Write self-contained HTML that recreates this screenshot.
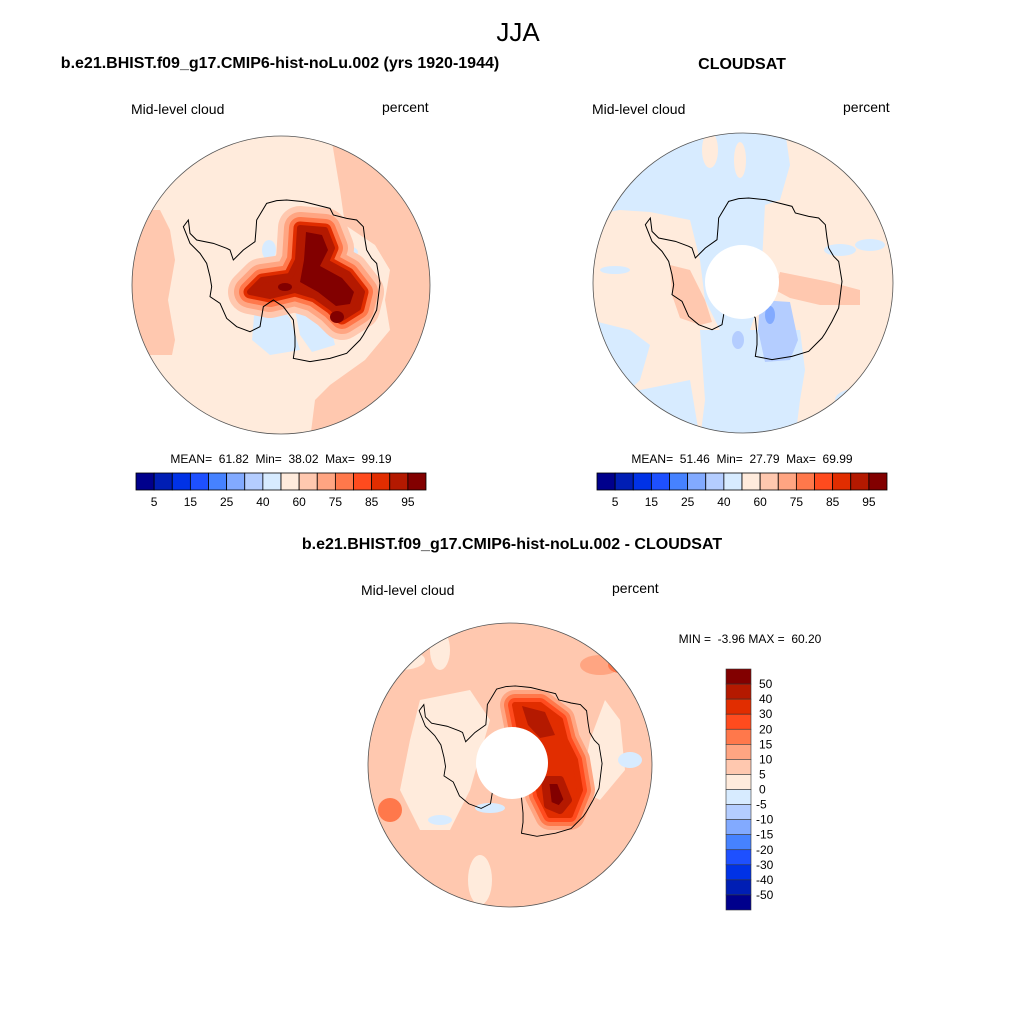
<!DOCTYPE html>
<html><head><meta charset="utf-8"><style>
body{margin:0;background:#fff}
svg text{font-family:"Liberation Sans",sans-serif;fill:#000;white-space:pre}
</style></head><body>
<svg id="fig" width="1024" height="1024" viewBox="0 0 1024 1024" xmlns="http://www.w3.org/2000/svg">
<defs>
<clipPath id="c1"><circle cx="281" cy="285" r="149"/></clipPath>
<clipPath id="c2"><circle cx="743" cy="283" r="150"/></clipPath>
<clipPath id="c3"><circle cx="510" cy="765" r="142"/></clipPath>
<path id="ant" d="M410,160 L440,152 470,150 520,155 560,165 600,175 610,195 650,205 680,210 700,230 705,270 710,300 725,325 740,340 750,400 745,440 740,480 720,520 700,555 690,570 650,610 600,625 540,635 490,625 495,590 495,560 490,510 460,470 430,450 400,470 395,500 390,530 360,545 320,530 290,505 270,460 240,440 245,410 240,380 230,340 210,310 180,280 160,230 175,210 180,250 200,270 250,280 290,295 300,300 310,330 340,300 375,275 378,240 380,210 Z" fill="none" stroke="#000" stroke-width="3"/>
<path id="core1" d="M300,228 L325,230 332,248 326,262 348,274 362,292 358,308 342,318 332,308 315,296 295,290 270,296 250,292 262,280 290,276 298,260Z"/>
<path id="core3" d="M515,705 L540,705 560,720 565,740 575,760 580,790 570,815 550,815 540,795 535,770 535,745 520,730Z"/>
</defs>
<text x="280" y="68" font-size="16" font-weight="bold" text-anchor="middle">b.e21.BHIST.f09_g17.CMIP6-hist-noLu.002 (yrs 1920-1944)</text>
<text x="518" y="41" font-size="26" text-anchor="middle">JJA</text>
<text x="742" y="69" font-size="16" font-weight="bold" text-anchor="middle">CLOUDSAT</text>
<text x="512" y="549" font-size="16" font-weight="bold" text-anchor="middle">b.e21.BHIST.f09_g17.CMIP6-hist-noLu.002 - CLOUDSAT</text>
<text x="131" y="114" font-size="14">Mid-level cloud</text>
<text x="382" y="112" font-size="14">percent</text>
<text x="592" y="114" font-size="14">Mid-level cloud</text>
<text x="843" y="112" font-size="14">percent</text>
<text x="361" y="595" font-size="14">Mid-level cloud</text>
<text x="612" y="593" font-size="14">percent</text>
<text x="281" y="463" font-size="12" text-anchor="middle">MEAN=  61.82  Min=  38.02  Max=  99.19</text>
<text x="742" y="463" font-size="12" text-anchor="middle">MEAN=  51.46  Min=  27.79  Max=  69.99</text>
<text x="750" y="643" font-size="12" text-anchor="middle">MIN =  -3.96 MAX =  60.20</text>

<!-- map 1 -->
<g clip-path="url(#c1)">
<rect x="130" y="130" width="310" height="310" fill="#ffebdc"/>
<path d="M130,210 L160,210 170,230 175,260 168,300 175,340 172,355 130,355Z" fill="#ffc8af"/>
<path d="M330,130 L440,130 440,440 310,440 315,400 330,385 365,360 390,330 385,300 390,270 375,245 345,225 340,190 335,160Z" fill="#ffc8af"/>
<path d="M255,305 L275,300 290,318 300,350 270,355 252,340Z" fill="#d7ebff"/>
<path d="M295,310 L310,305 330,325 335,345 312,352 300,335Z" fill="#d7ebff"/>
<ellipse cx="342" cy="252" rx="16" ry="7" fill="#d7ebff"/>
<ellipse cx="269" cy="250" rx="7" ry="10" fill="#d7ebff"/>
<g stroke-linejoin="round">
<use href="#core1" fill="#ffc8af" stroke="#ffc8af" stroke-width="44"/>
<use href="#core1" fill="#ffa582" stroke="#ffa582" stroke-width="32"/>
<use href="#core1" fill="#ff784b" stroke="#ff784b" stroke-width="22"/>
<use href="#core1" fill="#e12d00" stroke="#e12d00" stroke-width="13"/>
<use href="#core1" fill="#b41900" stroke="#b41900" stroke-width="6"/>
<path d="M306,232 L322,235 328,250 320,266 342,278 354,292 350,304 336,306 318,292 300,282 304,260Z" fill="#820000"/>
<ellipse cx="285" cy="287" rx="7" ry="4" fill="#820000"/>
<ellipse cx="337" cy="317" rx="7" ry="6" fill="#820000"/>
</g>
<g transform="translate(281,285) scale(0.3333) translate(-453,-405)"><use href="#ant"/></g>
</g>
<circle cx="281" cy="285" r="149" fill="none" stroke="#555" stroke-width="0.8"/>

<!-- map 2 -->
<g clip-path="url(#c2)">
<rect x="590" y="130" width="310" height="310" fill="#ffebdc"/>
<path d="M590,130 L785,130 790,165 780,200 765,205 760,300 750,330 720,330 705,300 700,260 690,220 650,212 620,210 590,215Z" fill="#d7ebff"/>
<path d="M700,330 L800,330 805,370 800,400 795,440 700,440 705,400Z" fill="#d7ebff"/>
<path d="M590,320 L630,330 650,345 640,380 620,400 590,400Z" fill="#d7ebff"/>
<path d="M590,400 L690,380 700,440 590,440Z" fill="#d7ebff"/>
<ellipse cx="612" cy="178" rx="18" ry="10" fill="#d7ebff"/>
<ellipse cx="840" cy="250" rx="16" ry="6" fill="#d7ebff"/>
<ellipse cx="870" cy="245" rx="15" ry="6" fill="#d7ebff"/>
<ellipse cx="615" cy="270" rx="15" ry="4" fill="#d7ebff"/>
<ellipse cx="860" cy="400" rx="25" ry="12" fill="#d7ebff"/>
<ellipse cx="710" cy="150" rx="8" ry="18" fill="#ffebdc"/>
<ellipse cx="740" cy="160" rx="6" ry="18" fill="#ffebdc"/>
<path d="M670,265 L690,270 705,300 712,322 700,325 680,318 672,295Z" fill="#ffc8af"/>
<path d="M780,272 L830,282 860,290 860,305 820,305 790,298 775,290Z" fill="#ffc8af"/>
<path d="M760,300 L790,302 798,340 790,360 765,362 758,330Z" fill="#b4cdff"/>
<ellipse cx="770" cy="315" rx="5" ry="9" fill="#82aaff"/>
<ellipse cx="738" cy="340" rx="6" ry="9" fill="#b4cdff"/>
<g transform="translate(743,283) scale(0.3333) translate(-453,-405)"><use href="#ant"/></g>
<circle cx="742" cy="282" r="37" fill="#fff"/>
</g>
<circle cx="743" cy="283" r="150" fill="none" stroke="#555" stroke-width="0.8"/>

<!-- map 3 -->
<g clip-path="url(#c3)">
<rect x="360" y="615" width="300" height="300" fill="#ffc8af"/>
<path d="M420,700 L470,690 490,720 470,790 450,830 420,830 400,790 410,740Z" fill="#ffebdc"/>
<path d="M580,790 L600,800 625,770 620,720 605,700 590,740Z" fill="#ffebdc"/>
<ellipse cx="400" cy="660" rx="25" ry="10" fill="#ffebdc"/>
<ellipse cx="480" cy="880" rx="12" ry="25" fill="#ffebdc"/>
<ellipse cx="440" cy="650" rx="10" ry="20" fill="#ffebdc"/>
<ellipse cx="600" cy="665" rx="20" ry="10" fill="#ffa582"/>
<ellipse cx="390" cy="810" rx="12" ry="12" fill="#ff784b"/>
<ellipse cx="620" cy="665" rx="12" ry="8" fill="#ff784b"/>
<ellipse cx="630" cy="760" rx="12" ry="8" fill="#d7ebff"/>
<ellipse cx="440" cy="820" rx="12" ry="5" fill="#d7ebff"/>
<ellipse cx="490" cy="808" rx="15" ry="5" fill="#d7ebff"/>
<g stroke-linejoin="round">
<use href="#core3" fill="#ffa582" stroke="#ffa582" stroke-width="30"/>
<use href="#core3" fill="#ff784b" stroke="#ff784b" stroke-width="22"/>
<use href="#core3" fill="#ff4b1e" stroke="#ff4b1e" stroke-width="14"/>
<use href="#core3" fill="#e12d00" stroke="#e12d00" stroke-width="6"/>
<path d="M522,706 L545,712 555,735 540,738 528,725Z" fill="#b41900"/>
<path d="M545,780 L560,780 568,800 560,810 548,805Z" fill="#820000" stroke="#b41900" stroke-width="8" stroke-linejoin="round"/>
</g>
<g transform="translate(510,765) scale(0.31) translate(-453,-405)"><use href="#ant"/></g>
<circle cx="512" cy="763" r="36" fill="#fff"/>
</g>
<circle cx="510" cy="765" r="142" fill="none" stroke="#555" stroke-width="0.8"/>

<g id="cb1"></g>
<g id="cb2"></g>
<g id="cb3"></g>
</svg>
<script>
const levelColors = ["#00008c","#001eb4","#0032e6","#1e50ff","#4682ff","#82aaff","#b4cdff","#d7ebff","#ffebdc","#ffc8af","#ffa582","#ff784b","#ff4b1e","#e12d00","#b41900","#820000"];
const absLabels = ["5","15","25","40","60","75","85","95"];
const diffLabels = ["50","40","30","20","15","10","5","0","-5","-10","-15","-20","-30","-40","-50"];
const NS="http://www.w3.org/2000/svg";
function mk(tag,attrs,parent){const e=document.createElementNS(NS,tag);for(const k in attrs)e.setAttribute(k,attrs[k]);parent.appendChild(e);return e;}
function horizBar(gid,x0,y0,w,h){
  const g=document.getElementById(gid);const bw=w/levelColors.length;
  levelColors.forEach((c,i)=>{const r=mk('rect',{x:x0+i*bw,y:y0,width:bw,height:h,fill:c,stroke:'#000','stroke-width':0.8},g);
    
    });
  absLabels.forEach((l,i)=>{const t=mk('text',{x:x0+(2*i+1)*bw,y:y0+h+16,'font-size':12,'text-anchor':'middle'},g);t.textContent=l;
    
    });
}
horizBar('cb1',136,473,290,17);
horizBar('cb2',597,473,290,17);
(function(){
  const g=document.getElementById('cb3');const x0=726,y0=669,w=25,h=241,bh=h/levelColors.length;
  levelColors.slice().reverse().forEach((c,i)=>{const r=mk('rect',{x:x0,y:y0+i*bh,width:w,height:bh,fill:c,stroke:'#333','stroke-width':0.6},g);
    
    });
  diffLabels.forEach((l,i)=>{const t=mk('text',{x:l.startsWith('-')?756:759,y:y0+(i+1)*bh+4,'font-size':12},g);t.textContent=l;
    
    });
})();
</script>
</body></html>
